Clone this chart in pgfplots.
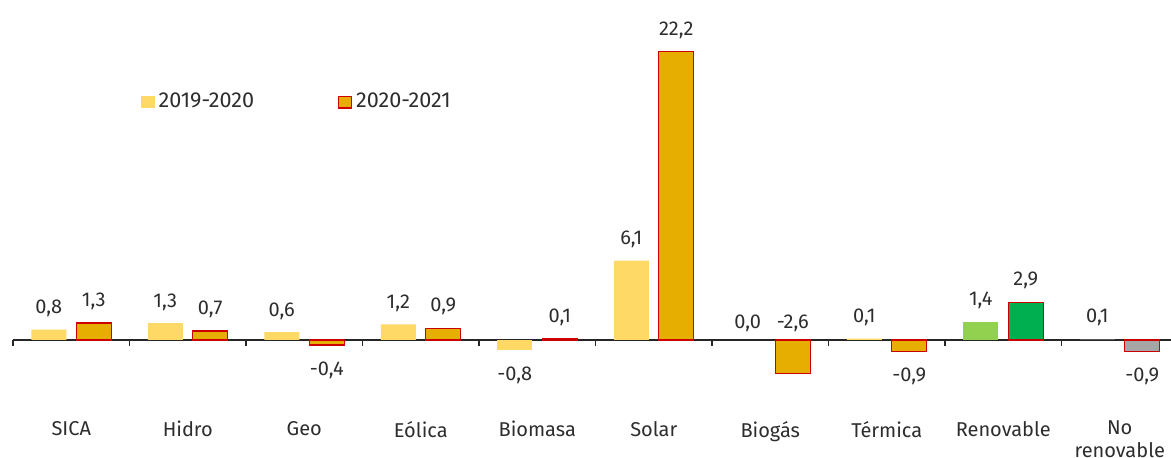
\documentclass[border=0pt]{standalone}
\usepackage{fontspec}
\setmainfont{Fira Sans}
\usepackage{pgfplots}
\pgfplotsset{compat=1.18}
\definecolor{cA}{RGB}{255,217,102}
\definecolor{cB}{RGB}{230,174,0}
\definecolor{cRed}{RGB}{204,0,0}
\definecolor{gA}{RGB}{146,208,80}
\definecolor{gB}{RGB}{0,176,80}
\definecolor{grA}{RGB}{89,89,89}
\definecolor{grB}{RGB}{166,166,166}
\definecolor{txt}{RGB}{45,45,45}
\pgfplotsset{
  legA/.style={legend image code/.code={\fill[cA] (0pt,-2.9pt) rectangle (6.3pt,2.9pt);}},
  legB/.style={legend image code/.code={\filldraw[fill=cB, draw=cRed, line width=0.7pt] (0pt,-2.9pt) rectangle (6.3pt,2.9pt);}}
}
\begin{document}
\begin{tikzpicture}[font=\fontsize{10}{12}\selectfont]
\begin{axis}[
  scale only axis,
  width=579pt, height=175.5pt,
  xmin=-0.5, xmax=9.44, ymin=-3, ymax=24,
  axis x line=middle, axis y line=none,
  x axis line style={-, draw=black!85, line width=0.75pt},
  xtick={0,...,9},
  xticklabels={SICA,Hidro,Geo,Eólica,Biomasa,Solar,Biogás,Térmica,Renovable,{No\\renovable}},
  major tick length=0pt,
  minor xtick={-0.5,0.5,...,8.5},
  minor tick length=3pt,
  xtick align=outside,
  minor tick style={draw=black!85, line width=0.75pt},
  hide obscured x ticks=false,
  xticklabel style={yshift=-37pt, align=center, text=txt, font=\fontsize{10}{11.3}\selectfont},
  ybar, bar width=17.5pt,
  clip=false,
  nodes near coords,
  point meta=explicit symbolic,
  every node near coord/.append style={font=\fontsize{10}{12}\selectfont, text=txt, text height=7pt, text depth=0pt, inner ysep=7.8pt},
  neg/.style={every node near coord/.append style={anchor=north}},
  legend style={draw=none, fill=none, at={(axis cs:0.545,18.3)}, anchor=west,
    font=\fontsize{10.8}{13}\selectfont, text=txt,
    /tikz/every even column/.append style={column sep=40pt}},
  legend columns=2,
]
% 2019-2020
\addplot[forget plot, fill=cA, draw=none, bar shift=-11.25pt] table[x=x, y=y, meta=l] {
x y l
0 0.8 0,8
1 1.3 1,3
2 0.6 0,6
3 1.2 1,2
5 6.1 6,1
7 0.1 0,1
};
\addplot[forget plot, neg, fill=cA, draw=none, bar shift=-11.25pt] table[x=x, y=y, meta=l] {
x y l
4 -0.8 -0,8
};
\addplot[forget plot, fill=gA, draw=none, bar shift=-11.25pt] table[x=x, y=y, meta=l] {
x y l
8 1.4 1,4
};
\addplot[forget plot, fill=grA, draw=none, bar shift=-11.25pt] table[x=x, y=y, meta=l] {
x y l
9 0.1 0,1
};
\addplot[forget plot, fill=none, draw=none, bar shift=-11.25pt,
  every node near coord/.append style={inner ysep=5.5pt}] table[x=x, y=y, meta=l] {
x y l
6 0.0 0,0
};
% 2020-2021
\addplot[forget plot, fill=cB, draw=cRed, line width=0.7pt, bar shift=11.25pt] table[x=x, y=y, meta=l] {
x y l
0 1.3 1,3
1 0.7 0,7
3 0.9 0,9
4 0.1 0,1
5 22.2 22,2
};
\addplot[forget plot, neg, fill=cB, draw=cRed, line width=0.7pt, bar shift=11.25pt] table[x=x, y=y, meta=l] {
x y l
2 -0.4 -0,4
7 -0.9 -0,9
};
\addplot[forget plot, fill=cB, draw=cRed, line width=0.7pt, bar shift=11.25pt, nodes near coords=] table[x=x, y=y] {
x y
6 -2.6
};
\addplot[forget plot, fill=none, draw=none, bar shift=11.25pt,
  every node near coord/.append style={inner ysep=5.5pt}] table[x=x, y=y, meta=l] {
x y l
6 0.0 -2,6
};
\addplot[forget plot, fill=gB, draw=cRed, line width=0.7pt, bar shift=11.25pt] table[x=x, y=y, meta=l] {
x y l
8 2.9 2,9
};
\addplot[forget plot, neg, fill=grB, draw=cRed, line width=0.7pt, bar shift=11.25pt] table[x=x, y=y, meta=l] {
x y l
9 -0.9 -0,9
};
\addlegendimage{legA}
\addlegendentry{2019-2020}
\addlegendimage{legB}
\addlegendentry{2020-2021}
\coordinate (BL) at (axis cs:-0.612,-9.08);
\coordinate (TR) at (axis cs:9.44,26.15);
\end{axis}
\pgfresetboundingbox
\path[use as bounding box] (BL) rectangle (TR);
\end{tikzpicture}
\end{document}
